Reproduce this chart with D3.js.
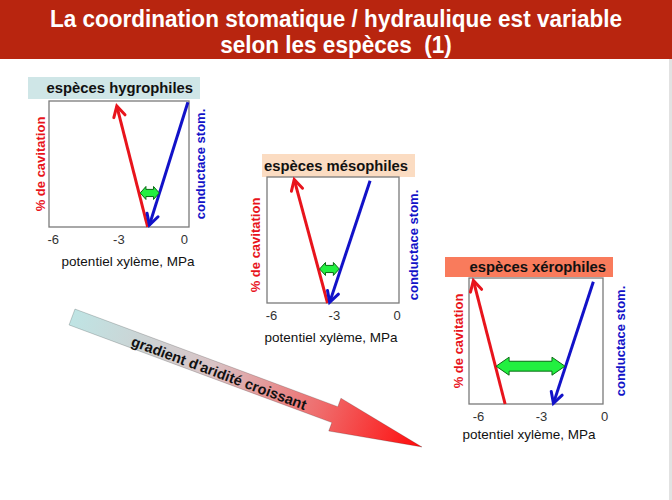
<!DOCTYPE html>
<html>
<head>
<meta charset="utf-8">
<script src="https://cdn.jsdelivr.net/npm/d3@7"></script>
<style>
  html, body { margin: 0; padding: 0; background: #fff; }
  svg text { font-family: "Liberation Sans", Arial, sans-serif; }
</style>
</head>
<body>
<svg id="chart" width="672" height="500"></svg>
<script>
// values (x = xylem potential in MPa, y = % of the axis height)
var titleLines = ['La coordination stomatique / hydraulique est variable', 'selon les esp\u00e8ces\u00a0 (1)'];
var panelNames = ['esp\u00e8ces hygrophiles', 'esp\u00e8ces m\u00e9sophiles', 'esp\u00e8ces x\u00e9rophiles'];
var xTicks = [-6, -3, 0];
var xDomains = [[-6.17, 0.23], [-6.19, 0.11], [-6.43, -0.05]];
var yDomain = [0, 100];
var cavitationFrom = [[-1.66, 0], [-3.30, 0], [-4.71, 0]];
var cavitationTo = [[-3.07, 96], [-4.89, 98], [-6.22, 98]];
var conductanceFrom = [[0.18, 99], [-1.27, 97], [-0.51, 97]];
var conductanceTo = [[-1.58, 1.5], [-3.20, 0.5], [-2.41, 0.5]];
var marginFrom = [[-2.0, 27], [-3.68, 27], [-5.14, 30]];
var marginTo = [[-1.13, 27], [-2.74, 27], [-1.86, 30]];
var xLabel = 'potentiel xyl\u00e8me, MPa';
var cavLabel = '% de cavitation';
var condLabel = 'conductace stom.';
var gradientLabel = "gradient d'aridit\u00e9 croissant";

// layout of the three small charts
var layout = [
  {x0: 49, x1: 189, y0: 101, y1: 227, box: [28, 77, 200, 99], boxFill: '#cfe6e7',
   cavX: 40, condX: 200, yMid: 164, tickY: 244, titleY: 266, titleX: 128},
  {x0: 267, x1: 399, y0: 177, y1: 303, box: [262, 154, 415, 177], boxFill: '#fbdcc2',
   cavX: 255, condX: 413, yMid: 245, tickY: 320, titleY: 342, titleX: 331},
  {x0: 469, x1: 603, y0: 278, y1: 404, box: [445, 257, 613, 277], boxFill: '#f97b5c',
   cavX: 458, condX: 620, yMid: 341, tickY: 421, titleY: 439, titleX: 529}
];

var red = '#e8141c', blue = '#1212c8';

var svg = d3.select('#chart');
var defs = svg.append('defs');

// header band
svg.append('rect').attr('x', 0).attr('y', 0).attr('width', 672).attr('height', 59).attr('fill', '#b8250f');
svg.append('rect').attr('x', 669).attr('y', 59).attr('width', 3).attr('height', 441).attr('fill', '#e2e2e2');
svg.selectAll('.title').data(titleLines).enter().append('text')
    .attr('class', 'title')
    .attr('transform', function(d, i) { return 'translate(336,' + (27 + i * 26) + ') scale(0.92,1)'; })
    .attr('text-anchor', 'middle')
    .attr('fill', '#fff')
    .attr('font-size', '24.5px')
    .attr('font-weight', 'bold')
    .text(function(d) { return d; });

// big gradient arrow
var a0 = [72, 317], a1 = [422, 447];
var shaftW = 17, headW = 35, headL = 93;
var dx = a1[0] - a0[0], dy = a1[1] - a0[1];
var len = Math.sqrt(dx * dx + dy * dy);
var ux = dx / len, uy = dy / len, px = -uy, py = ux;
var bx = a1[0] - ux * headL, by = a1[1] - uy * headL;
function pt(x, y, o) { return [x + px * o, y + py * o]; }
var arrowPts = [
  pt(a0[0], a0[1], -shaftW / 2), pt(bx, by, -shaftW / 2), pt(bx, by, -headW / 2),
  a1, pt(bx, by, headW / 2), pt(bx, by, shaftW / 2), pt(a0[0], a0[1], shaftW / 2)
];
var grad = defs.append('linearGradient').attr('id', 'aridity')
    .attr('gradientUnits', 'userSpaceOnUse')
    .attr('x1', a0[0]).attr('y1', a0[1]).attr('x2', a1[0]).attr('y2', a1[1]);
grad.append('stop').attr('offset', '0').attr('stop-color', '#bfe4e4');
grad.append('stop').attr('offset', '0.4').attr('stop-color', '#d9c3c5');
grad.append('stop').attr('offset', '0.72').attr('stop-color', '#f06868');
grad.append('stop').attr('offset', '1').attr('stop-color', '#ff0a0a');
svg.append('path')
    .attr('d', d3.line()(arrowPts) + 'Z')
    .attr('fill', 'url(#aridity)')
    .attr('stroke', 'rgba(0,0,0,0.18)')
    .attr('stroke-width', 1);
var angle = Math.atan2(dy, dx) * 180 / Math.PI;
svg.append('text')
    .attr('transform', 'translate(219,373) rotate(' + angle + ')')
    .attr('text-anchor', 'middle')
    .attr('dy', '0.35em')
    .attr('font-size', '14.5px')
    .attr('font-weight', 'bold')
    .attr('fill', '#111')
    .text(gradientLabel);

// open V arrowhead at the end of a line
function vHead(g, p0, p1, color) {
  var ddx = p1[0] - p0[0], ddy = p1[1] - p0[1];
  var a = Math.atan2(ddy, ddx), L = 12, w = 0.5;
  var l = [p1[0] - L * Math.cos(a - w), p1[1] - L * Math.sin(a - w)];
  var r = [p1[0] - L * Math.cos(a + w), p1[1] - L * Math.sin(a + w)];
  g.append('path').attr('d', d3.line()([l, p1, r]))
      .attr('fill', 'none').attr('stroke', color).attr('stroke-width', 3)
      .attr('stroke-linejoin', 'miter').attr('stroke-linecap', 'round');
}

layout.forEach(function(p, i) {
  var g = svg.append('g');
  var x = d3.scaleLinear().domain(xDomains[i]).range([p.x0, p.x1]);
  var y = d3.scaleLinear().domain(yDomain).range([p.y1, p.y0]);

  g.append('rect')
      .attr('x', p.box[0]).attr('y', p.box[1])
      .attr('width', p.box[2] - p.box[0]).attr('height', p.box[3] - p.box[1])
      .attr('fill', p.boxFill);
  g.append('text')
      .attr('x', p.box[2] - 7).attr('y', (p.box[1] + p.box[3]) / 2)
      .attr('dy', '0.36em')
      .attr('text-anchor', 'end')
      .attr('font-size', '14.8px').attr('font-weight', 'bold').attr('fill', '#111')
      .text(panelNames[i]);

  g.append('rect')
      .attr('x', p.x0).attr('y', p.y0)
      .attr('width', p.x1 - p.x0).attr('height', p.y1 - p.y0)
      .attr('fill', '#fff').attr('stroke', '#7a7a7a').attr('stroke-width', 1.3);

  var axis = g.append('g')
      .attr('transform', 'translate(0,' + (p.tickY - 12) + ')')
      .call(d3.axisBottom(x).tickValues(xTicks).tickSize(0).tickPadding(0)
            .tickFormat(function(d) { return String(d); }));
  axis.select('.domain').remove();
  axis.selectAll('text')
      .attr('y', 12).attr('dy', 0)
      .attr('font-size', '13px').attr('fill', '#333')
      .attr('font-family', '"Liberation Sans", Arial, sans-serif');

  g.append('text')
      .attr('x', p.titleX).attr('y', p.titleY)
      .attr('text-anchor', 'middle')
      .attr('font-size', '13.5px').attr('fill', '#111')
      .text(xLabel);

  g.append('text')
      .attr('transform', 'translate(' + p.cavX + ',' + p.yMid + ') rotate(-90)')
      .attr('text-anchor', 'middle').attr('dy', '0.36em')
      .attr('font-size', '13px').attr('font-weight', 'bold').attr('fill', red)
      .text(cavLabel);
  g.append('text')
      .attr('transform', 'translate(' + p.condX + ',' + p.yMid + ') rotate(-90)')
      .attr('text-anchor', 'middle').attr('dy', '0.36em')
      .attr('font-size', '13px').attr('font-weight', 'bold').attr('fill', blue)
      .text(condLabel);

  var line = d3.line().x(function(d) { return x(d[0]); }).y(function(d) { return y(d[1]); });

  // cavitation (red) and stomatal conductance (blue)
  [[cavitationFrom[i], cavitationTo[i], red], [conductanceFrom[i], conductanceTo[i], blue]]
    .forEach(function(s) {
      g.append('path').attr('d', line([s[0], s[1]]))
          .attr('fill', 'none').attr('stroke', s[2]).attr('stroke-width', 3);
      vHead(g, [x(s[0][0]), y(s[0][1])], [x(s[1][0]), y(s[1][1])], s[2]);
    });

  // safety margin double arrow
  var mx0 = x(marginFrom[i][0]), mx1 = x(marginTo[i][0]), my = y(marginFrom[i][1]);
  var w = mx1 - mx0;
  var hl = Math.min(13, w * 0.3), hh = w > 40 ? 9 : 6.5, sh = hh * 0.55;
  var dbl = [[mx0, my], [mx0 + hl, my - hh], [mx0 + hl, my - sh], [mx1 - hl, my - sh], [mx1 - hl, my - hh],
             [mx1, my], [mx1 - hl, my + hh], [mx1 - hl, my + sh], [mx0 + hl, my + sh], [mx0 + hl, my + hh]];
  g.append('path').attr('d', d3.line()(dbl) + 'Z')
      .attr('fill', '#22f040').attr('stroke', '#0a6a14').attr('stroke-width', 1);
});
</script>
</body>
</html>
